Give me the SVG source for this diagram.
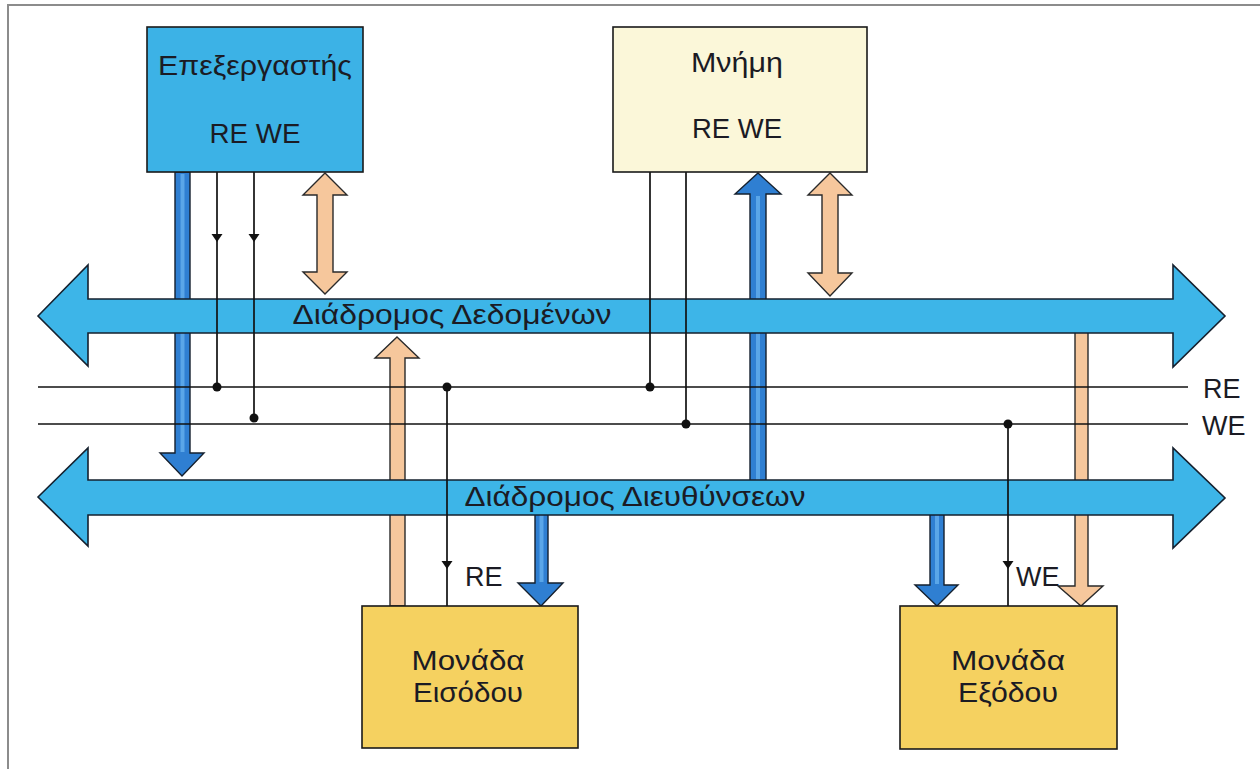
<svg xmlns="http://www.w3.org/2000/svg" width="1260" height="769" viewBox="0 0 1260 769">
<style>
.frame{stroke:#8c8c8c;stroke-width:2;fill:none}
.bus{fill:#3db5e8;stroke:#15202e;stroke-width:1.6;stroke-linejoin:miter}
.blue{fill:#2f7fd2;stroke:#15202e;stroke-width:1.4}
.stripe{stroke:#5aa6e8;stroke-width:4;fill:none}
.peach{fill:#f6c79c;stroke:#2a2a2a;stroke-width:1.4}
.wire{stroke:#111;stroke-width:1.7;fill:none}
.tip{fill:#111}
.dot{fill:#111}
.box{stroke:#1a1a1a;stroke-width:1.6}
.t{font-family:"Liberation Sans",Arial,sans-serif;font-size:28px;fill:#1b1b24;text-anchor:middle}
.tl{font-family:"Liberation Sans",Arial,sans-serif;font-size:27px;fill:#1b1b24}
</style>
<rect width="1260" height="769" fill="#ffffff"/>
<path class="frame" d="M8,769 L8,5 L1260,5"/>

<g id="connectors">
  <!-- vertical thick arrows (behind buses) -->
  <polygon class="blue" points="175,172 190,172 190,453 204,453 182,476 160,453 175,453"/>
  <line class="stripe" x1="182.5" y1="174" x2="182.5" y2="452"/>
  <polygon class="peach" points="325,173 347,195 333,195 333,272 347,272 325,294 303,272 317,272 317,195 303,195"/>
  <polygon class="blue" points="758,173 781,194 766,194 766,486 750,486 750,194 735,194"/>
  <line class="stripe" x1="758" y1="196" x2="758" y2="484"/>
  <polygon class="peach" points="830,173 852,195 838,195 838,273 852,273 830,296 808,273 822,273 822,195 808,195"/>
  <polygon class="peach" points="397,337 419,358 405,358 405,606 390,606 390,358 375,358"/>
  <polygon class="blue" points="535,512 548,512 548,583 563,583 541,606 518,583 535,583"/>
  <line class="stripe" x1="541.5" y1="514" x2="541.5" y2="582"/>
  <polygon class="blue" points="930,512 944,512 944,585 958,585 937,606 915,585 930,585"/>
  <line class="stripe" x1="937" y1="514" x2="937" y2="584"/>
  <polygon class="peach" points="1075,330 1088,330 1088,586 1103,586 1081,606 1058,586 1075,586"/>

  <!-- buses -->
  <path class="bus" d="M38,316 L88,265 L88,299 L1173,299 L1173,265 L1225,316 L1173,367 L1173,333 L88,333 L88,366 Z"/>
  <path class="bus" d="M38,497 L88,448 L88,480 L1173,480 L1173,448 L1225,498 L1173,548 L1173,515 L88,515 L88,546 Z"/>

  <!-- RE / WE control lines -->
  <line class="wire" x1="38" y1="387" x2="1188" y2="387"/>
  <line class="wire" x1="38" y1="424" x2="1188" y2="424"/>

  <!-- processor control wires -->
  <line class="wire" x1="217" y1="172" x2="217" y2="387"/>
  <line class="wire" x1="254" y1="172" x2="254" y2="418"/>
  <polygon class="tip" points="211.5,234 222.5,234 217,242"/>
  <polygon class="tip" points="248.5,234 259.5,234 254,242"/>
  <circle class="dot" cx="217" cy="387" r="4.5"/>
  <circle class="dot" cx="254" cy="418" r="4.5"/>

  <!-- memory control wires -->
  <line class="wire" x1="650" y1="172" x2="650" y2="387"/>
  <line class="wire" x1="686" y1="172" x2="686" y2="424"/>
  <circle class="dot" cx="650" cy="387" r="4.5"/>
  <circle class="dot" cx="686" cy="424" r="4.5"/>

  <!-- input unit RE wire -->
  <line class="wire" x1="447" y1="387" x2="447" y2="606"/>
  <polygon class="tip" points="441.5,561 452.5,561 447,569"/>
  <circle class="dot" cx="447" cy="387" r="4.5"/>

  <!-- output unit WE wire -->
  <line class="wire" x1="1008" y1="424" x2="1008" y2="606"/>
  <polygon class="tip" points="1002.5,561 1013.5,561 1008,569"/>
  <circle class="dot" cx="1008" cy="424" r="4.5"/>

  <!-- labels -->
  <text class="t" x="452" y="324" textLength="319" lengthAdjust="spacingAndGlyphs">Διάδρομος Δεδομένων</text>
  <text class="t" x="635" y="506" textLength="341" lengthAdjust="spacingAndGlyphs">Διάδρομος Διευθύνσεων</text>
  <text class="tl" x="1203" y="398">RE</text>
  <text class="tl" x="1202" y="435">WE</text>
  <text class="tl" x="465" y="586">RE</text>
  <text class="tl" x="1016" y="586">WE</text>
</g>

<g id="processor">
  <rect class="box" x="147" y="27" width="216" height="145" fill="#3cb2e6"/>
  <text class="t" x="255" y="75" textLength="194" lengthAdjust="spacingAndGlyphs">Επεξεργαστής</text>
  <text class="t" x="255" y="143" textLength="91" lengthAdjust="spacingAndGlyphs">RE WE</text>
</g>

<g id="memory">
  <rect class="box" x="613" y="27" width="254" height="145" fill="#fbf7d9"/>
  <text class="t" x="737" y="72" textLength="92" lengthAdjust="spacingAndGlyphs">Μνήμη</text>
  <text class="t" x="737" y="138" textLength="90" lengthAdjust="spacingAndGlyphs">RE WE</text>
</g>

<g id="input-unit">
  <rect class="box" x="362" y="606" width="216" height="142" fill="#f5d160"/>
  <text class="t" x="468" y="670" textLength="113" lengthAdjust="spacingAndGlyphs">Μονάδα</text>
  <text class="t" x="468" y="702" textLength="110" lengthAdjust="spacingAndGlyphs">Εισόδου</text>
</g>

<g id="output-unit">
  <rect class="box" x="900" y="606" width="217" height="143" fill="#f5d160"/>
  <text class="t" x="1008" y="670" textLength="114" lengthAdjust="spacingAndGlyphs">Μονάδα</text>
  <text class="t" x="1008" y="702" textLength="100" lengthAdjust="spacingAndGlyphs">Εξόδου</text>
</g>
</svg>
